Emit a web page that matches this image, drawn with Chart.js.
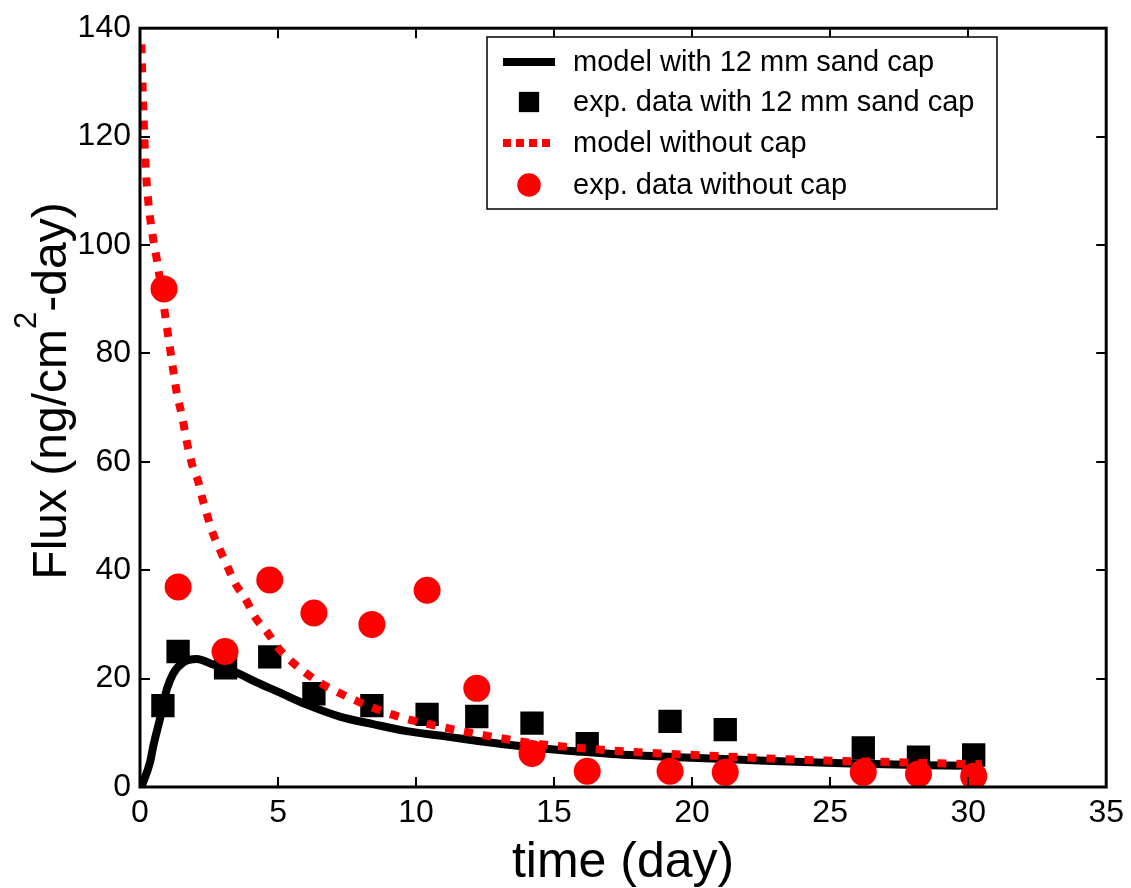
<!DOCTYPE html>
<html>
<head>
<meta charset="utf-8">
<script src="https://cdn.jsdelivr.net/npm/chart.js@4.4.0/dist/chart.umd.min.js"></script>
<style>
  body { margin: 0; background: #fff; }
</style>
</head>
<body>
<canvas id="fluxChart" width="1131" height="888"></canvas>
<script>
// model with 12 mm sand cap
var capModelDays = [0.05, 0.36, 0.48, 0.72, 0.97, 1.21, 1.57, 2.05, 2.65, 3.5, 4.23, 5.07, 6.04, 7.24, 8.44, 9.66, 10.86, 11.8, 13.5, 15.0, 17.1, 19.5, 22.0, 24.0, 26.0, 28.5, 30.5];
var capModelFlux = [0, 4.5, 7.5, 12.5, 18, 21, 23, 23.6, 22.6, 21.1, 19.3, 17.4, 15.2, 13.0, 11.6, 10.3, 9.5, 8.8, 7.7, 6.9, 6.1, 5.5, 5.0, 4.6, 4.3, 4.0, 3.9];

// exp. data with 12 mm sand cap
var capExpDays = [0.83, 1.38, 3.1, 4.7, 6.3, 8.4, 10.4, 12.2, 14.2, 16.2, 19.2, 21.2, 26.2, 28.2, 30.2];
var capExpFlux = [15, 25, 22, 24, 17.2, 15, 13.4, 13, 11.8, 8, 12.1, 10.6, 7.2, 5.5, 5.9];

// model without cap
var noCapModelDays = [0.05, 0.12, 0.2, 0.3, 0.45, 0.62, 0.8, 0.97, 1.12, 1.23, 1.34, 1.52, 1.74, 1.92, 2.1, 2.28, 2.46, 2.64, 2.9, 3.15, 3.44, 3.8, 4.16, 4.63, 5.0, 5.5, 6.5, 7.2, 8.3, 9.5, 10.9, 12.3, 13.8, 14.5, 16.4, 18.1, 20.5, 21.7, 24.7, 27.3, 29.4, 30.5];
var noCapModelFlux = [137, 125, 115, 108, 102, 97, 91, 85, 79.8, 76, 72.5, 68.5, 62.6, 58.9, 56.5, 52.8, 49.7, 46.8, 43.7, 40.9, 37.6, 34.9, 31.4, 28.4, 25.7, 23.1, 19.3, 17.4, 14.9, 12.8, 11.1, 9.7, 8.4, 7.9, 7.0, 6.4, 5.8, 5.5, 4.9, 4.6, 4.3, 4.2];

// exp. data without cap
var noCapExpDays = [0.87, 1.38, 3.08, 4.7, 6.3, 8.4, 10.4, 12.2, 14.2, 16.2, 19.2, 21.2, 26.2, 28.2, 30.2];
var noCapExpFlux = [91.9, 36.9, 25, 38.2, 32.1, 30, 36.3, 18.2, 6.2, 2.9, 2.9, 2.7, 2.7, 2.4, 2.0];

var xTickStep = 5;
var yTickStep = 20;

function toPoints(xs, ys) {
    var pts = [];
    for (var i = 0; i < xs.length; i++) {
        pts.push({ x: xs[i], y: ys[i] });
    }
    return pts;
}

var FONT = 'Liberation Sans, Arial, sans-serif';

// box around the plot, inward ticks, y title with superscript and the legend
var frameAndLegend = {
    id: 'frameAndLegend',
    afterDraw: function(chart) {
        var ctx = chart.ctx;
        var area = chart.chartArea;
        var xs = chart.scales.x;
        var ys = chart.scales.y;
        var tick = 10;

        ctx.save();
        ctx.strokeStyle = '#000';
        ctx.lineWidth = 2;
        ctx.beginPath();
        for (var v = xs.min; v <= xs.max; v += xTickStep) {
            var px = Math.round(xs.getPixelForValue(v));
            ctx.moveTo(px, area.bottom);
            ctx.lineTo(px, area.bottom - tick);
            ctx.moveTo(px, area.top);
            ctx.lineTo(px, area.top + tick);
        }
        for (var w = ys.min; w <= ys.max; w += yTickStep) {
            var py = Math.round(ys.getPixelForValue(w));
            ctx.moveTo(area.left, py);
            ctx.lineTo(area.left + tick, py);
            ctx.moveTo(area.right, py);
            ctx.lineTo(area.right - tick, py);
        }
        ctx.stroke();
        ctx.lineWidth = 3;
        ctx.strokeRect(area.left, area.top, area.right - area.left, area.bottom - area.top);

        // y axis title: Flux (ng/cm^2-day)
        var big = '48px ' + FONT;
        var small = '31px ' + FONT;
        ctx.fillStyle = '#000';
        ctx.textBaseline = 'alphabetic';
        ctx.textAlign = 'left';
        ctx.font = big;
        var p1 = 'Flux (ng/cm', p3 = '-day)';
        var w1 = ctx.measureText(p1).width;
        var w3 = ctx.measureText(p3).width;
        ctx.font = small;
        var w2 = ctx.measureText('2').width;
        var total = w1 + w2 + w3;
        ctx.translate(66, 391);
        ctx.rotate(-Math.PI / 2);
        var sx = -total / 2;
        ctx.font = big;
        ctx.fillText(p1, sx, 0);
        ctx.font = small;
        ctx.fillText('2', sx + w1, -30);
        ctx.font = big;
        ctx.fillText(p3, sx + w1 + w2, 0);
        ctx.restore();

        // legend
        var box = { left: 487, top: 37, right: 997, bottom: 209 };
        var rows = [62, 102, 143, 185];
        ctx.save();
        ctx.fillStyle = '#fff';
        ctx.fillRect(box.left, box.top, box.right - box.left, box.bottom - box.top);
        ctx.strokeStyle = '#000';
        ctx.lineWidth = 1.5;
        ctx.strokeRect(box.left, box.top, box.right - box.left, box.bottom - box.top);
        ctx.font = '29px ' + FONT;
        ctx.textBaseline = 'middle';
        chart.data.datasets.forEach(function(ds, i) {
            var y = rows[i];
            if (ds.showLine) {
                ctx.save();
                ctx.strokeStyle = ds.borderColor;
                ctx.lineWidth = ds.borderWidth;
                ctx.setLineDash(ds.legendDash || []);
                ctx.beginPath();
                ctx.moveTo(503, y);
                ctx.lineTo(555, y);
                ctx.stroke();
                ctx.restore();
            } else {
                ctx.save();
                ctx.fillStyle = ds.backgroundColor;
                ctx.strokeStyle = ds.backgroundColor;
                Chart.helpers.drawPoint(ctx, {
                    pointStyle: ds.pointStyle,
                    radius: ds.pointRadius * 0.87,
                    borderWidth: 0,
                    rotation: 0
                }, 529, y);
                ctx.restore();
            }
            ctx.fillStyle = '#000';
            ctx.fillText(ds.label, 573, y + 1);
        });
        ctx.restore();
    }
};

new Chart(document.getElementById('fluxChart'), {
    type: 'scatter',
    data: {
        datasets: [
            {
                label: 'model with 12 mm sand cap',
                data: toPoints(capModelDays, capModelFlux),
                showLine: true,
                borderColor: '#000',
                borderWidth: 8,
                pointRadius: 0,
                cubicInterpolationMode: 'monotone',
                order: 3
            },
            {
                label: 'exp. data with 12 mm sand cap',
                data: toPoints(capExpDays, capExpFlux),
                pointStyle: 'rect',
                pointRadius: 16.5,
                backgroundColor: '#000',
                borderColor: '#000',
                borderWidth: 0,
                order: 2
            },
            {
                label: 'model without cap',
                data: toPoints(noCapModelDays, noCapModelFlux),
                showLine: true,
                borderColor: '#ff0000',
                borderWidth: 8,
                borderDash: [9, 10],
                legendDash: [8, 5],
                pointRadius: 0,
                cubicInterpolationMode: 'monotone',
                order: 1
            },
            {
                label: 'exp. data without cap',
                data: toPoints(noCapExpDays, noCapExpFlux),
                pointStyle: 'circle',
                pointRadius: 13.5,
                backgroundColor: '#ff0000',
                borderColor: '#ff0000',
                borderWidth: 0,
                order: 0
            }
        ]
    },
    options: {
        responsive: false,
        animation: false,
        layout: { padding: { left: 0, top: 25, right: 24, bottom: 0 } },
        plugins: {
            legend: { display: false },
            tooltip: { enabled: false }
        },
        scales: {
            x: {
                type: 'linear',
                min: 0,
                max: 35,
                ticks: {
                    stepSize: xTickStep,
                    color: '#000',
                    font: { family: FONT, size: 32 },
                    padding: 7,
                    maxRotation: 0,
                    autoSkip: false
                },
                grid: { display: false, drawTicks: false },
                border: { display: false },
                title: {
                    display: true,
                    text: 'time (day)',
                    color: '#000',
                    font: { family: FONT, size: 50, lineHeight: 1 },
                    padding: 0
                },
                afterFit: function(scale) { scale.height = 101; }
            },
            y: {
                type: 'linear',
                min: 0,
                max: 140,
                ticks: {
                    stepSize: yTickStep,
                    color: '#000',
                    font: { family: FONT, size: 32 },
                    padding: 9
                },
                grid: { display: false, drawTicks: false },
                border: { display: false },
                afterFit: function(scale) { scale.width = 140; }
            }
        }
    },
    plugins: [frameAndLegend]
});
</script>
</body>
</html>
